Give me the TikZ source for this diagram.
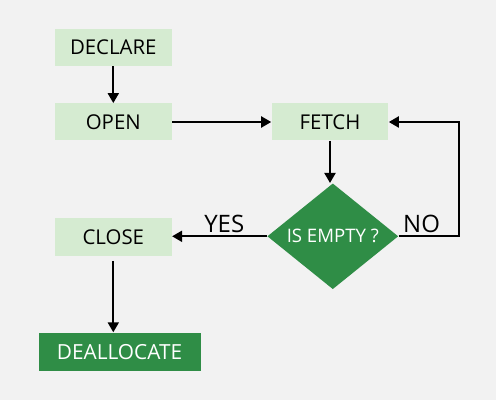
\documentclass[tikz,border=0pt]{standalone}
\usepackage{fontspec}
\setmainfont{Open Sans}
\usetikzlibrary{positioning,arrows.meta,shapes.geometric}
\definecolor{bggray}{HTML}{F2F2F2}
\definecolor{lightgr}{HTML}{D5EBD1}
\definecolor{darkgr}{HTML}{2F8D46}

\begin{document}
\begin{tikzpicture}[x=0.5pt, y=-0.5pt,
    box/.style={fill=lightgr, inner sep=0pt, minimum width=58.4pt, minimum height=18.5pt, font=\fontsize{10.2}{12}\selectfont},
    endbox/.style={fill=darkgr, text=white, inner sep=0pt, minimum width=81pt, minimum height=19pt, font=\fontsize{10.4}{12}\selectfont},
    test/.style={diamond, fill=darkgr, text=white, inner sep=0pt, minimum width=65.5pt, minimum height=49.8pt, font=\fontsize{9.3}{11}\selectfont},
    lbl/.style={font=\fontsize{12}{14}\selectfont, inner sep=1.5pt},
    arr/.style={-{Triangle[length=5pt, width=5.5pt]}, line width=1pt}
]
\fill[bggray] (0,0) rectangle (496,400);
\useasboundingbox (0,0) rectangle (496,400);

\node[box] (decl) at (113.3,47.3) {DECLARE};
\node[box] (open) at (113.3,122) {OPEN};
\node[box] (fetch) at (330,122) {FETCH};
\node[test] (empty) at (332.8,236.3) {IS EMPTY ?};
\node[box] (close) at (113.3,237) {CLOSE};
\node[endbox] (dealloc) at (119.5,351.7) {DEALLOCATE};
\coordinate (loop) at (459,122);

\draw[arr] (decl) -- (open);
\draw[arr] (open) -- (fetch);
\draw[arr] (fetch.south) -- (fetch.south |- empty.north);
\draw[arr] (empty.west) -- (empty.west -| close.east) node[pos=0.45, above, lbl] {YES};
\draw[arr] (empty.east) -| node[pos=0.19, above, lbl] {NO} (loop) -- (fetch.east);
\draw[arr, shorten <=2.5pt] (close.south) -- (close.south |- dealloc.north);
\end{tikzpicture}
\end{document}
